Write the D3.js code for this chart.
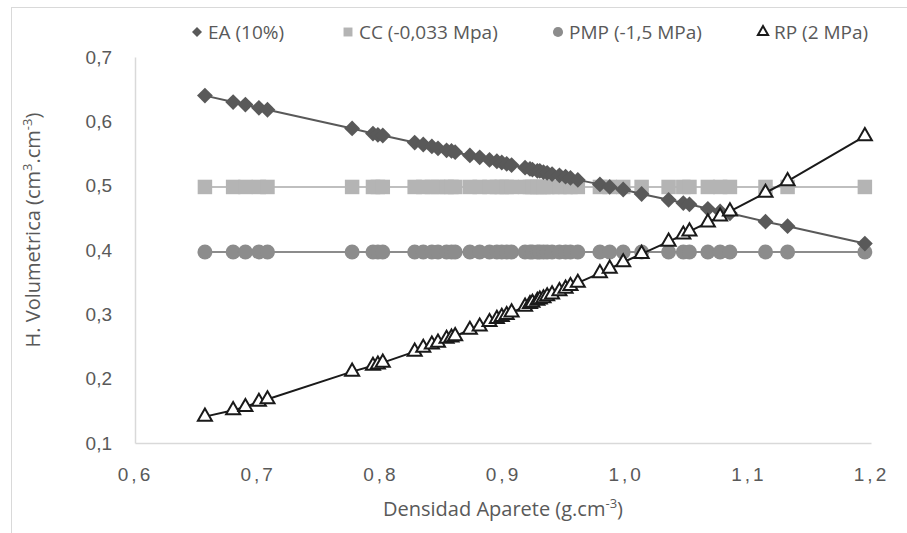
<!DOCTYPE html>
<html>
<head>
<meta charset="utf-8">
<script src="https://cdn.jsdelivr.net/npm/d3@7"></script>
<style>
  body { margin: 0; background: #fff; }
  svg { display: block; font-family: "Open Sans", "Noto Sans", sans-serif; }
</style>
</head>
<body>
<div id="chart"></div>
<script>
// shared x values (densidad aparente)
var density = [0.657, 0.680, 0.690, 0.701, 0.708, 0.777, 0.794, 0.798, 0.802, 0.828,
    0.835, 0.842, 0.847, 0.854, 0.858, 0.861, 0.873, 0.881, 0.889, 0.895,
    0.899, 0.903, 0.907, 0.918, 0.922, 0.924, 0.928, 0.930, 0.933, 0.936,
    0.940, 0.946, 0.951, 0.955, 0.961, 0.979, 0.987, 0.998, 1.013, 1.035,
    1.047, 1.052, 1.067, 1.077, 1.085, 1.114, 1.132, 1.195];

var eaValues = [0.640, 0.630, 0.626, 0.621, 0.618, 0.589, 0.581, 0.579, 0.578, 0.567,
    0.564, 0.561, 0.558, 0.555, 0.554, 0.552, 0.547, 0.544, 0.540, 0.538,
    0.536, 0.534, 0.532, 0.528, 0.526, 0.525, 0.523, 0.523, 0.521, 0.520,
    0.518, 0.516, 0.514, 0.512, 0.509, 0.502, 0.498, 0.494, 0.487, 0.478,
    0.473, 0.471, 0.464, 0.460, 0.457, 0.444, 0.437, 0.410];

var ccValues = [0.498, 0.498, 0.498, 0.498, 0.498, 0.498, 0.498, 0.498, 0.498, 0.498,
    0.498, 0.498, 0.498, 0.498, 0.498, 0.498, 0.498, 0.498, 0.498, 0.498,
    0.498, 0.498, 0.498, 0.498, 0.498, 0.498, 0.498, 0.498, 0.498, 0.498,
    0.498, 0.498, 0.498, 0.498, 0.498, 0.498, 0.498, 0.498, 0.498, 0.498,
    0.498, 0.498, 0.498, 0.498, 0.498, 0.498, 0.498, 0.498];

var pmpValues = [0.397, 0.397, 0.397, 0.397, 0.397, 0.397, 0.397, 0.397, 0.397, 0.397,
    0.397, 0.397, 0.397, 0.397, 0.397, 0.397, 0.397, 0.397, 0.397, 0.397,
    0.397, 0.397, 0.397, 0.397, 0.397, 0.397, 0.397, 0.397, 0.397, 0.397,
    0.397, 0.397, 0.397, 0.397, 0.397, 0.397, 0.397, 0.397, 0.397, 0.397,
    0.397, 0.397, 0.397, 0.397, 0.397, 0.397, 0.397, 0.397];

var rpValues = [0.141, 0.151, 0.156, 0.164, 0.168, 0.211, 0.220, 0.222, 0.225, 0.242,
    0.248, 0.253, 0.256, 0.262, 0.264, 0.266, 0.276, 0.281, 0.288, 0.293,
    0.296, 0.299, 0.303, 0.312, 0.316, 0.318, 0.321, 0.323, 0.325, 0.328,
    0.331, 0.336, 0.340, 0.344, 0.349, 0.364, 0.371, 0.381, 0.394, 0.413,
    0.424, 0.429, 0.443, 0.452, 0.460, 0.489, 0.507, 0.577];

var seriesNames = ["EA (10%)", "CC (-0,033 Mpa)", "PMP (-1,5 MPa)", "RP (2 MPa)"];
var xTicks = [0.6, 0.7, 0.8, 0.9, 1.0, 1.1, 1.2];
var yTicks = [0.1, 0.2, 0.3, 0.4, 0.5, 0.6, 0.7];

var width = 907, height = 533;
var plotLeft = 135, plotRight = 871, plotTop = 57, plotBottom = 443;

var svg = d3.select("#chart").append("svg")
    .attr("width", width)
    .attr("height", height);

// chart border (only top/left visible in the frame)
svg.append("rect")
    .attr("x", 11.5).attr("y", 7.5)
    .attr("width", 1000).attr("height", 1000)
    .attr("fill", "none")
    .attr("stroke", "#d9d9d9");

var xScale = d3.scaleLinear().domain([0.6, 1.2]).range([plotLeft, plotRight]);
var yScale = d3.scaleLinear().domain([0.1, 0.7]).range([plotBottom, plotTop]);

var fmt = function(d) { return d3.format(".1f")(d).replace(".", ","); };

var xAxis = d3.axisBottom(xScale).tickValues(xTicks).tickSize(0).tickFormat(fmt);
var yAxis = d3.axisLeft(yScale).tickValues(yTicks).tickSize(0).tickFormat(fmt);

var gx = svg.append("g")
    .attr("transform", "translate(0," + plotBottom + ")")
    .call(xAxis);
gx.select(".domain").attr("stroke", "#d9d9d9").attr("stroke-width", 1.5);
gx.selectAll("text")
    .attr("y", 38)
    .attr("dy", 0)
    .attr("fill", "#595959")
    .style("font-size", "19px")
    .style("letter-spacing", "3px");

var gy = svg.append("g")
    .attr("transform", "translate(" + plotLeft + ",0)")
    .call(yAxis);
gy.select(".domain").attr("stroke", "#d9d9d9").attr("stroke-width", 1.5);
gy.selectAll("text")
    .attr("x", -23)
    .attr("fill", "#595959")
    .style("font-size", "19px");

// axis titles
svg.append("text")
    .attr("x", 503).attr("y", 516)
    .attr("text-anchor", "middle")
    .attr("fill", "#595959")
    .style("font-size", "20px")
    .html('Densidad Aparete (g.cm<tspan dy="-8" font-size="13px">-3</tspan><tspan dy="8">)</tspan>');

svg.append("text")
    .attr("transform", "translate(40,230) rotate(-90)")
    .attr("text-anchor", "middle")
    .attr("fill", "#595959")
    .style("font-size", "20px")
    .html('H. Volumetrica (cm<tspan dy="-8" font-size="13px">3</tspan><tspan dy="8">.cm</tspan><tspan dy="-8" font-size="13px">-3</tspan><tspan dy="8">)</tspan>');

var pts = function(vals) {
    return density.map(function(d, i) { return [d, vals[i]]; });
};

var line = d3.line()
    .x(function(d) { return xScale(d[0]); })
    .y(function(d) { return yScale(d[1]); });

// diamond = square turned 45 degrees (Excel style)
var series = [
    { vals: ccValues, color: "#b4b4b4", lineColor: "#bfbfbf", shape: d3.symbolSquare, size: 210, rot: 0 },
    { vals: pmpValues, color: "#8c8c8c", lineColor: "#8c8c8c", shape: d3.symbolCircle, size: 175, rot: 0 },
    { vals: eaValues, color: "#595959", lineColor: "#595959", shape: d3.symbolSquare, size: 125, rot: 45 },
    { vals: rpValues, color: "#1a1a1a", lineColor: "#1a1a1a", shape: d3.symbolTriangle, size: 85, rot: 0 }
];

series.forEach(function(s) {
    var data = pts(s.vals);
    svg.append("path")
        .datum(data)
        .attr("fill", "none")
        .attr("stroke", s.lineColor)
        .attr("stroke-width", 2)
        .attr("d", line);

    var sym = d3.symbol().type(s.shape).size(s.size);
    svg.append("g").selectAll("path")
        .data(data)
        .enter().append("path")
        .attr("transform", function(d) {
            return "translate(" + xScale(d[0]) + "," + yScale(d[1]) + ") rotate(" + s.rot + ")";
        })
        .attr("d", sym)
        .attr("fill", s.shape === d3.symbolTriangle ? "#fff" : s.color)
        .attr("stroke", s.shape === d3.symbolTriangle ? s.color : "none")
        .attr("stroke-width", 2);
});

// legend
var legendX = [197, 348, 558, 763];
var legendShapes = [d3.symbolSquare, d3.symbolSquare, d3.symbolCircle, d3.symbolTriangle];
var legendRot = [45, 0, 0, 0];
var legendColors = ["#595959", "#b4b4b4", "#8c8c8c", "#1a1a1a"];

var legend = svg.append("g");
seriesNames.forEach(function(name, i) {
    var g = legend.append("g").attr("transform", "translate(" + legendX[i] + ",32)");
    g.append("path")
        .attr("transform", "rotate(" + legendRot[i] + ")")
        .attr("d", d3.symbol().type(legendShapes[i]).size(i === 3 ? 45 : (i === 0 ? 50 : 80)))
        .attr("fill", i === 3 ? "#fff" : legendColors[i])
        .attr("stroke", i === 3 ? legendColors[i] : "none")
        .attr("stroke-width", 2);
    g.append("text")
        .attr("x", 11).attr("y", 7)
        .attr("fill", "#595959")
        .style("font-size", "19px")
        .text(name);
});
</script>
</body>
</html>
